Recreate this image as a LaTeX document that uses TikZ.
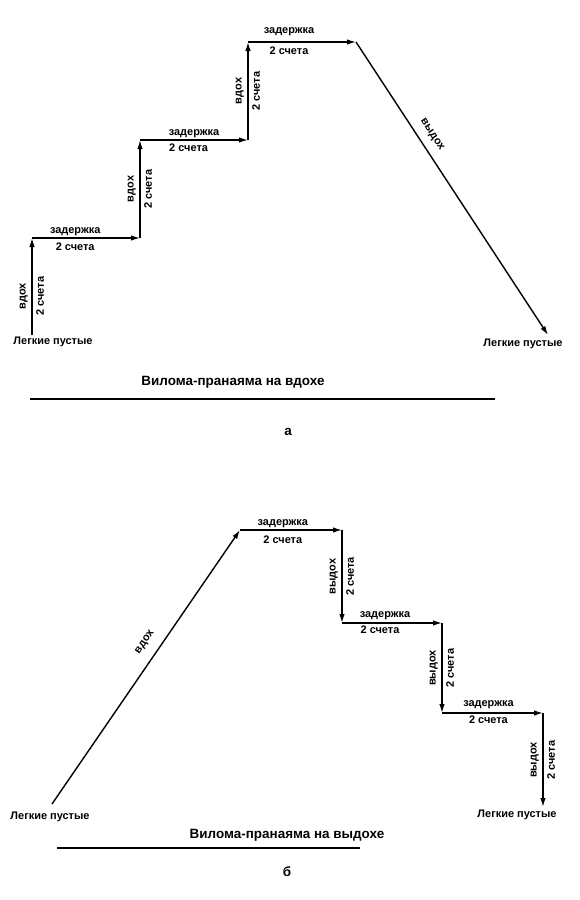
\documentclass[tikz,border=0pt]{standalone}
\usepackage{fontspec}
\setmainfont{Liberation Sans}
\usetikzlibrary{arrows.meta}

\tikzset{
  stair/.style={line width=1.4bp,-{Latex[length=9bp,width=5.5bp]}},
  lbl/.style={font=\bfseries\fontsize{11}{13}\selectfont,inner sep=2bp},
  vlbl/.style={lbl,rotate=90},
  ttl/.style={font=\bfseries\fontsize{13.5}{15}\selectfont},
}

\begin{document}
\begin{tikzpicture}[x=1bp,y=-1bp]
\useasboundingbox (0,0) rectangle (580,900);
% а -- на вдохе
        \coordinate (A0) at (32,335);
        \coordinate (A1) at (32,238);
        \coordinate (A2) at (140,238);
        \coordinate (A3) at (140,140);
        \coordinate (A4) at (248,140);
        \coordinate (A5) at (248,42);
        \coordinate (A6) at (356,42);
        \coordinate (A7) at (548,335);
        \node[lbl] (LA) at (53,342) {Легкие пустые};
        \node[lbl] (RA) at (523,344) {Легкие пустые};
        \draw[stair] (A0)-- node[vlbl,above=1.5bp,pos=0.4] {вдох} node[vlbl,below=1.5bp,pos=0.4] {2 счета} (A1);
         \draw[stair] (A1)-- node[lbl,above,pos=0.4] {задержка} node[lbl,below=2.5bp,pos=0.4] {2 счета} (A2);
        \draw[stair] (A2)-- node[vlbl,above=1.5bp] {вдох} node[vlbl,below=1.5bp] {2 счета} (A3);
         \draw[stair] (A3)-- node[lbl,above,pos=0.5] {задержка} node[lbl,below=1bp,pos=0.45] {2 счета} (A4);
        \draw[stair] (A4)-- node[vlbl,above=1.5bp] {вдох} node[vlbl,below=1.5bp] {2 счета} (A5);
         \draw[stair] (A5)-- node[lbl,above=4bp,pos=0.38] {задержка} node[lbl,below=2bp,pos=0.38] {2 счета} (A6);
        \draw[stair] (A6)-- node[lbl,sloped,above=6bp,pos=0.34] {выдох} (A7);
        \node[ttl] (TA) at (233,382) {Вилома-пранаяма на вдохе};
        \coordinate (UA1) at (30,399);
        \coordinate (UA2) at (495,399);
        \draw[line width=2.2bp] (UA1)--(UA2);
        \node[ttl] (NA) at (288,432) {а};
% б -- на выдохе
        \coordinate (B0) at (52,804);
        \coordinate (B1) at (240,530);
        \coordinate (B2) at (342,530);
        \coordinate (B3) at (342,623);
        \coordinate (B4) at (442,623);
        \coordinate (B5) at (442,713);
        \coordinate (B6) at (543,713);
        \coordinate (B7) at (543,807);
        \node[lbl] (LB) at (50,817) {Легкие пустые};
        \node[lbl] (RB) at (517,815) {Легкие пустые};
        \draw[stair] (B0)-- node[lbl,sloped,above=8bp,pos=0.56] {вдох} (B1);
         \draw[stair] (B1)-- node[lbl,above,pos=0.42] {задержка} node[lbl,below=3bp,pos=0.42] {2 счета} (B2);
        \draw[stair] (B2)-- node[vlbl,above=1.5bp] {выдох} node[vlbl,below=1.5bp] {2 счета} (B3);
         \draw[stair] (B3)-- node[lbl,above=1bp,pos=0.43] {задержка} node[lbl,below,pos=0.38] {2 счета} (B4);
        \draw[stair] (B4)-- node[vlbl,above=1.5bp] {выдох} node[vlbl,below=1.5bp] {2 счета} (B5);
         \draw[stair] (B5)-- node[lbl,above=2bp,pos=0.46] {задержка} node[lbl,below,pos=0.46] {2 счета} (B6);
        \draw[stair] (B6)-- node[vlbl,above=1.5bp] {выдох} node[vlbl,below=1.5bp] {2 счета} (B7);
        \node[ttl] (TB) at (287,835) {Вилома-пранаяма на выдохе};
        \coordinate (UB1) at (57,848);
        \coordinate (UB2) at (360,848);
        \draw[line width=2.2bp] (UB1)--(UB2);
        \node[ttl] (NB) at (287,872) {б};
\end{tikzpicture}
\end{document}
